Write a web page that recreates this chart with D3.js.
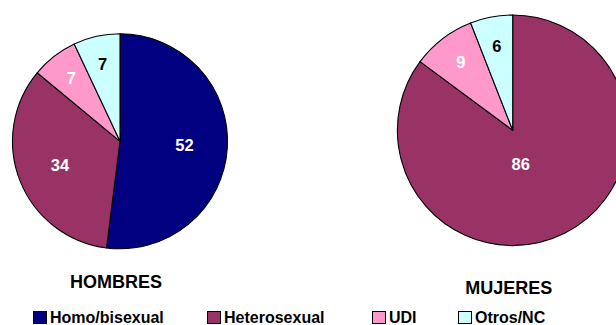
<!DOCTYPE html>
<html>
<head>
<meta charset="utf-8">
<script src="https://cdn.jsdelivr.net/npm/d3@7"></script>
<style>
  html, body { margin: 0; padding: 0; background: #fff; }
  svg { display: block; }
</style>
</head>
<body>
<svg id="chart" width="616" height="325"></svg>
<script>
// Transmission categories (shared legend)
const categories = ["Homo/bisexual", "Heterosexual", "UDI", "Otros/NC"];
const colors = ["#000080", "#993366", "#FF99CC", "#CCFFFF"];
const labelColors = ["#ffffff", "#ffffff", "#ffffff", "#000000"];

// Percentages per sex
const hombres = [52, 34, 7, 7];
const mujeres = [0, 86, 9, 6];
const titles = ["HOMBRES", "MUJERES"];

const svg = d3.select("#chart");
const font = "'Liberation Sans', Arial, sans-serif";

const panels = [
  { values: hombres, title: titles[0], cx: 120, cy: 141.3, r: 107.5, titleY: 288 },
  { values: mujeres, title: titles[1], cx: 512.7, cy: 130.3, r: 115.3, titleY: 294 }
];

const pie = d3.pie().sort(null).value(d => d);

panels.forEach(p => {
  const g = svg.append("g").attr("transform", `translate(${p.cx},${p.cy})`);
  const arcs = pie(p.values);
  const total = d3.sum(p.values);
  const arc = d3.arc().innerRadius(0).outerRadius(p.r);

  g.selectAll("path.slice")
    .data(arcs)
    .join("path")
    .attr("class", "slice")
    .attr("d", arc)
    .attr("fill", (d, i) => colors[i])
    .attr("stroke", "#000")
    .attr("stroke-width", 1.1)
    .attr("stroke-linejoin", "round");

  // Value labels: small wedges get their label nearer the rim,
  // a dominant wedge gets it close to the centre, leaning toward the bottom
  g.selectAll("text.val")
    .data(arcs.filter(d => d.value > 0))
    .join("text")
    .attr("class", "val")
    .attr("transform", d => {
      const share = d.value / total;
      const f = share < 0.15 ? 0.74 : share < 0.7 ? 0.6 : 0.3;
      let a = (d.startAngle + d.endAngle) / 2;
      if (share >= 0.7) a = (a + Math.PI) / 2;
      const rr = p.r * f;
      return `translate(${Math.sin(a) * rr},${-Math.cos(a) * rr})`;
    })
    .attr("text-anchor", "middle")
    .attr("dy", "0.36em")
    .attr("font-family", font)
    .attr("font-weight", "bold")
    .attr("font-size", "16.5px")
    .attr("fill", d => labelColors[d.index])
    .text(d => d.value);

  svg.append("text")
    .attr("x", p.cx - 4)
    .attr("y", p.titleY)
    .attr("text-anchor", "middle")
    .attr("font-family", font)
    .attr("font-weight", "bold")
    .attr("font-size", "18px")
    .attr("fill", "#000")
    .text(p.title);
});

// Legend along the bottom edge
const legendX = [33, 207, 372, 458];
const legend = svg.append("g");
categories.forEach((c, i) => {
  legend.append("rect")
    .attr("x", legendX[i] + 0.5)
    .attr("y", 311.5)
    .attr("width", 13)
    .attr("height", 12)
    .attr("fill", colors[i])
    .attr("stroke", "#000")
    .attr("stroke-width", 1);
  legend.append("text")
    .attr("x", legendX[i] + 17)
    .attr("y", 323)
    .attr("font-family", font)
    .attr("font-weight", "bold")
    .attr("font-size", "16px")
    .attr("fill", "#000")
    .text(c);
});
</script>
</body>
</html>
